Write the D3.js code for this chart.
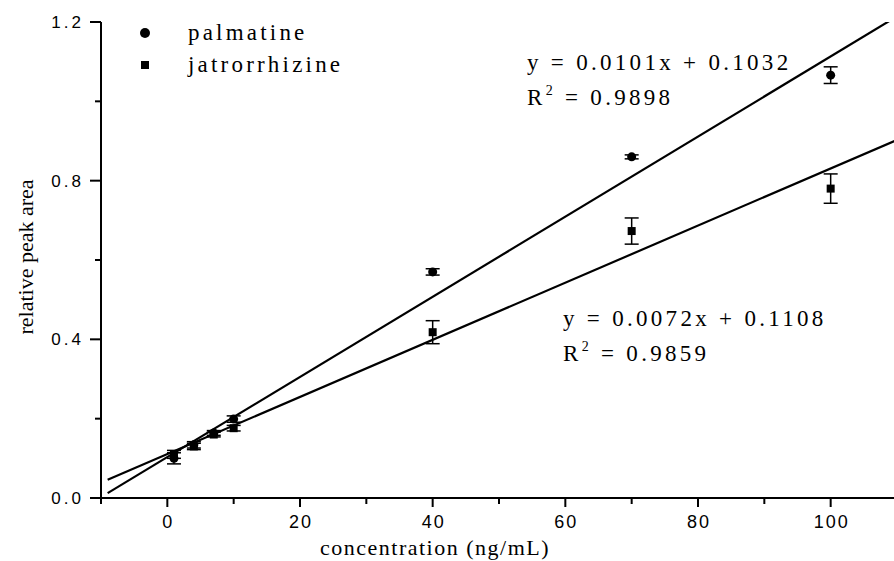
<!DOCTYPE html>
<html>
<head>
<meta charset="utf-8">
<script src="https://cdnjs.cloudflare.com/ajax/libs/d3/7.8.5/d3.min.js"></script>
<style>
body{margin:0;background:#fff;}
svg{display:block;}
.tk text{font-family:"Liberation Sans",Arial,sans-serif;}
</style>
</head>
<body>
<div id="plot"></div>
<script>
// data
var conc = [1, 4, 7, 10, 40, 70, 100];
var palmatine = [0.100, 0.134, 0.164, 0.199, 0.570, 0.860, 1.066];
var palmatineErr = [0.014, 0.008, 0.006, 0.008, 0.008, 0.005, 0.021];
var jatrorrhizine = [0.110, 0.130, 0.160, 0.176, 0.418, 0.673, 0.780];
var jatrorrhizineErr = [0.010, 0.008, 0.006, 0.007, 0.029, 0.033, 0.037];
var fitSlope = [0.0101, 0.0072];
var fitIntercept = [0.1032, 0.1108];
var fitR2 = ['0.9898', '0.9859'];
var seriesNames = ['palmatine', 'jatrorrhizine'];
var xTicks = [0, 20, 40, 60, 80, 100];
var yTicks = [0.0, 0.4, 0.8, 1.2];

var W = 894, H = 561;
var svg = d3.select('#plot').append('svg').attr('width', W).attr('height', H);

var x = d3.scaleLinear().domain([-10, 110]).range([101, 897]);
var y = d3.scaleLinear().domain([0, 1.2]).range([498, 22]);

svg.append('defs').append('clipPath').attr('id', 'clip')
	.append('rect').attr('x', x(-10)).attr('y', y(1.2)).attr('width', W - x(-10)).attr('height', y(0) - y(1.2));

// x axis
var xAxis = svg.append('g').attr('class', 'tk').attr('transform', 'translate(0,' + y(0) + ')');
xAxis.append('line').attr('x1', x(-10)).attr('x2', W).attr('stroke', '#000').attr('stroke-width', 2);
var xMinor = d3.range(-10, 111, 20);
xAxis.selectAll('.mn').data(xMinor).enter().append('line')
	.attr('x1', d => x(d)).attr('x2', d => x(d)).attr('y1', 0).attr('y2', 6)
	.attr('stroke', '#000').attr('stroke-width', 2);
xAxis.selectAll('.mj').data(xTicks).enter().append('line')
	.attr('x1', d => x(d)).attr('x2', d => x(d)).attr('y1', 0).attr('y2', 9)
	.attr('stroke', '#000').attr('stroke-width', 2);
xAxis.selectAll('text').data(xTicks).enter().append('text')
	.attr('x', d => x(d) + 1).attr('y', 30).attr('text-anchor', 'middle')
	.style('font-size', '18px').style('letter-spacing', '2px').text(d => d);

// y axis
var yAxis = svg.append('g').attr('class', 'tk');
yAxis.append('line').attr('x1', x(-10)).attr('x2', x(-10)).attr('y1', y(0) + 1).attr('y2', y(1.2))
	.attr('stroke', '#000').attr('stroke-width', 2);
yAxis.selectAll('.mn').data([0.2, 0.6, 1.0]).enter().append('line')
	.attr('x1', x(-10) - 6).attr('x2', x(-10)).attr('y1', d => y(d)).attr('y2', d => y(d))
	.attr('stroke', '#000').attr('stroke-width', 2);
yAxis.selectAll('.mj').data(yTicks).enter().append('line')
	.attr('x1', x(-10) - 11).attr('x2', x(-10)).attr('y1', d => y(d)).attr('y2', d => y(d))
	.attr('stroke', '#000').attr('stroke-width', 2);
yAxis.selectAll('text').data(yTicks).enter().append('text')
	.attr('x', x(-10) - 17).attr('y', d => y(d) + 6).attr('text-anchor', 'end')
	.style('font-size', '17px').style('letter-spacing', '3px').text(d => d.toFixed(1));

var serif = '"Liberation Serif","Times New Roman",serif';

// axis titles
svg.append('text').attr('x', 435).attr('y', 555).attr('text-anchor', 'middle')
	.style('font-family', serif).style('font-size', '22px')
	.style('letter-spacing', '1.5px').text('concentration (ng/mL)');
svg.append('text').attr('transform', 'translate(33,' + 257 + ') rotate(-90)').attr('text-anchor', 'middle')
	.style('font-family', serif).style('font-size', '22px')
	.text('relative peak area');

// fit lines
var plot = svg.append('g').attr('clip-path', 'url(#clip)');
fitSlope.forEach(function (m, i) {
	plot.append('line')
		.attr('x1', x(-9)).attr('y1', y(m * -9 + fitIntercept[i]))
		.attr('x2', x(112)).attr('y2', y(m * 112 + fitIntercept[i]))
		.attr('stroke', '#000').attr('stroke-width', 2.2);
});

// error bars and points
function drawSeries(vals, errs, shape) {
	var g = svg.append('g');
	conc.forEach(function (c, i) {
		var cx = x(c), lo = y(vals[i] - errs[i]), hi = y(vals[i] + errs[i]);
		g.append('line').attr('x1', cx).attr('x2', cx).attr('y1', lo).attr('y2', hi)
			.attr('stroke', '#000').attr('stroke-width', 1.5);
		[lo, hi].forEach(function (yy) {
			g.append('line').attr('x1', cx - 7).attr('x2', cx + 7).attr('y1', yy).attr('y2', yy)
				.attr('stroke', '#000').attr('stroke-width', 1.5);
		});
		if (shape == 'circle') {
			g.append('circle').attr('cx', cx).attr('cy', y(vals[i])).attr('r', 4.5).attr('fill', '#000');
		} else {
			g.append('rect').attr('x', cx - 4).attr('y', y(vals[i]) - 4).attr('width', 8).attr('height', 8).attr('fill', '#000');
		}
	});
}
drawSeries(palmatine, palmatineErr, 'circle');
drawSeries(jatrorrhizine, jatrorrhizineErr, 'square');

// legend
svg.append('circle').attr('cx', 145).attr('cy', 33).attr('r', 5).attr('fill', '#000');
svg.append('rect').attr('x', 141).attr('y', 61).attr('width', 8).attr('height', 8).attr('fill', '#000');
seriesNames.forEach(function (n, i) {
	svg.append('text').attr('x', 188).attr('y', 40 + i * 32)
		.style('font-family', serif).style('font-size', '23px').style('letter-spacing', '3.2px').text(n);
});

// equations
var eqPos = [[527, 70], [563, 326]];
fitSlope.forEach(function (m, i) {
	var t = svg.append('text').attr('x', eqPos[i][0]).attr('y', eqPos[i][1])
		.style('font-family', serif).style('font-size', '23px').style('letter-spacing', '3.3px');
	t.text('y = ' + m.toFixed(4) + 'x + ' + fitIntercept[i].toFixed(4));
	var r = svg.append('text').attr('x', eqPos[i][0]).attr('y', eqPos[i][1] + 35)
		.style('font-family', serif).style('font-size', '23px').style('letter-spacing', '3.3px');
	r.append('tspan').text('R');
	r.append('tspan').attr('dy', -10).style('font-size', '14px').text('2');
	r.append('tspan').attr('dy', 10).text(' = ' + fitR2[i]);
});
</script>
</body>
</html>
